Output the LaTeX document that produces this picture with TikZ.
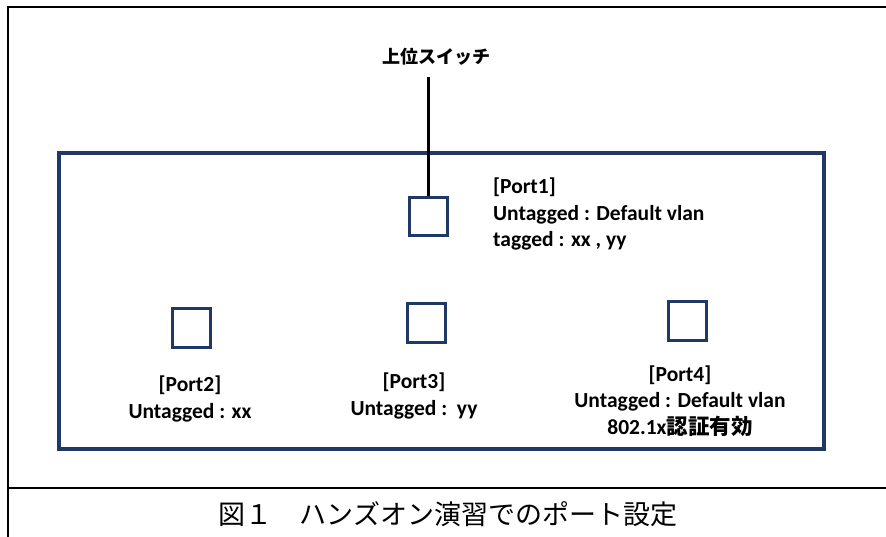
\documentclass[tikz,border=0pt]{standalone}
\usepackage{fontspec}
\setmainfont{Carlito}
\newfontfamily\jp{Noto Sans CJK JP}
\definecolor{navy}{HTML}{1F3864}
\begin{document}
\begin{tikzpicture}[x=1pt,y=-1pt,
  port/.style={draw=navy,line width=3pt,minimum size=38pt,inner sep=0pt},
  lbl/.style={inner sep=0pt,font=\fontsize{21.5}{26.5}\selectfont\bfseries},
  frame/.style={line width=2pt,black}]
\useasboundingbox (0,0) rectangle (886,537);
\fill[white] (0,0) rectangle (886,537);
% outer frame
\draw[frame] (890,7) -- (7.5,7) -- (7.5,540);
\draw[frame] (7.5,488) -- (890,488);
% switch box
\node[draw=navy,line width=3.5pt,minimum width=765pt,minimum height=296pt,inner sep=0pt] (sw) at (441.5,301) {};
% ports
\node[port] (p1) at (428,217) {};
\node[port] (p2) at (191,328) {};
\node[port] (p3) at (426,323) {};
\node[port] (p4) at (687,321) {};
% uplink
\node[inner sep=0pt,font=\jp\bfseries\fontsize{18}{20}\selectfont] (up) at (436,57) {上位スイッチ};
\coordinate (upend) at (428,77);
\draw[line width=3pt,black] (upend) -- (p1.north);
% labels
\node[lbl,align=left,anchor=west] (l1) at (493,214) {[Port1]\\Untagged : Default vlan\\tagged : xx , yy};
\node[lbl,align=center] (l2) at (190,399) {[Port2]\\Untagged : xx};
\node[lbl,align=center] (l3) at (414,396) {[Port3]\\Untagged :\ \ yy};
\node[lbl,align=center] (l4) at (680,401) {[Port4]\\Untagged : Default vlan\\802.1x{\jp 認証有効}};
% caption
\node[inner sep=0pt,font=\jp\fontsize{27}{30}\selectfont] (cap) at (448,514) {図１　ハンズオン演習でのポート設定};
\end{tikzpicture}
\end{document}
